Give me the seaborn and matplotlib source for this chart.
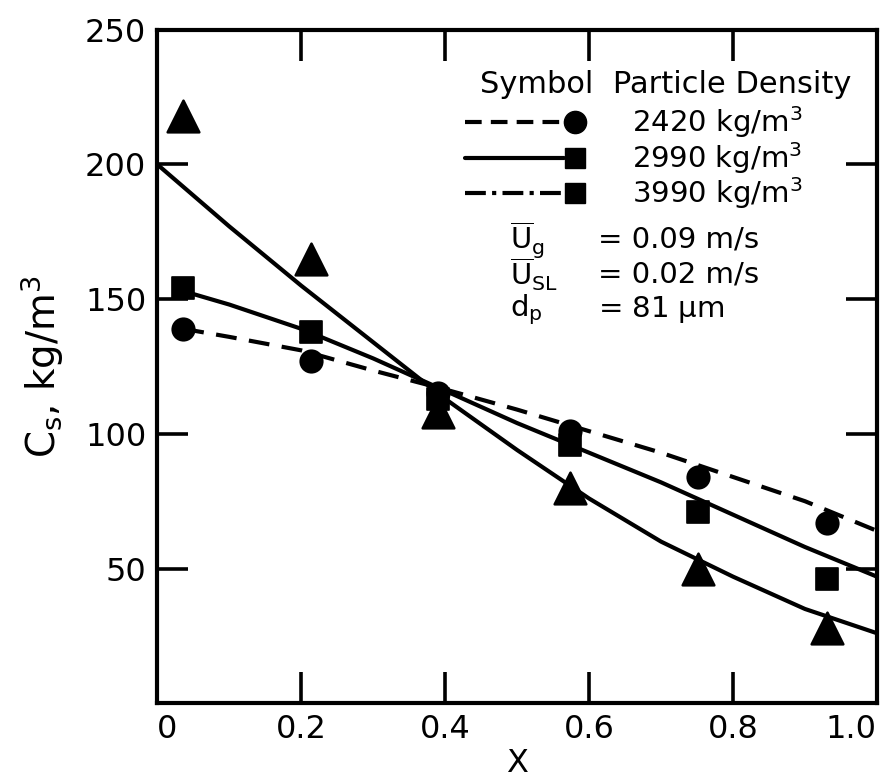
import pandas as pd
import matplotlib
matplotlib.use("Agg")
import matplotlib.pyplot as plt
import seaborn as sns

x_points = [0.036, 0.213, 0.39, 0.574, 0.752, 0.930]
cs_2420 = [139, 127, 115, 101, 84, 67]
cs_2990 = [154, 138, 113, 96, 71, 46]
cs_3990 = [218, 165, 108, 80, 50, 28]

# fitted curves
curve_2420_x = [0.036, 0.1, 0.2, 0.3, 0.4, 0.5, 0.6, 0.7, 0.8, 0.9, 1.0]
curve_2420_y = [139, 136, 131, 123.5, 116.5, 109, 101, 93, 84, 75, 64]
curve_2990_x = [0.036, 0.1, 0.2, 0.3, 0.4, 0.5, 0.6, 0.7, 0.8, 0.9, 1.0]
curve_2990_y = [153, 148, 139, 128, 116, 104, 93, 82, 70, 58, 47]
curve_3990_x = [0.0, 0.1, 0.2, 0.3, 0.4, 0.5, 0.6, 0.7, 0.8, 0.9, 1.0]
curve_3990_y = [200, 177, 155, 134, 113, 94, 76, 60, 47, 35, 26]

densities = ["2420 kg/m$^3$", "2990 kg/m$^3$", "3990 kg/m$^3$"]
conditions = [r"$\overline{U}_g$", r"$\overline{U}_{SL}$", r"d$_p$"]
condition_values = ["= 0.09 m/s", "= 0.02 m/s", "= 81 $\\mu$m"]
x_ticks = [0, 0.2, 0.4, 0.6, 0.8, 1.0]
x_tick_labels = ["0", "0.2", "0.4", "0.6", "0.8", "1.0"]
y_ticks = [50, 100, 150, 200, 250]

sns.set_style("ticks", {"text.color": "black", "axes.labelcolor": "black",
                        "xtick.color": "black", "ytick.color": "black",
                        "axes.edgecolor": "black"})
plt.rcParams["font.family"] = ["DejaVu Sans"]
plt.rcParams["mathtext.default"] = "regular"

fig = plt.figure(figsize=(8.84, 7.84), dpi=100)
ax = fig.add_axes([0.178, 0.103, 0.814, 0.859])

lw = 3.0
sns.lineplot(x=curve_2420_x, y=curve_2420_y, ax=ax, color="black", lw=lw,
             linestyle=(0, (5, 3)))
sns.lineplot(x=curve_2990_x, y=curve_2990_y, ax=ax, color="black", lw=lw)
sns.lineplot(x=curve_3990_x, y=curve_3990_y, ax=ax, color="black", lw=lw)

pts = pd.DataFrame({"x": x_points * 3,
                    "cs": cs_2420 + cs_2990 + cs_3990,
                    "rho": ["2420"] * 6 + ["2990"] * 6 + ["3990"] * 6})
sns.scatterplot(data=pts[pts.rho == "2420"], x="x", y="cs", marker="o",
                s=260, color="black", edgecolor="black", ax=ax, zorder=5,
                legend=False)
sns.scatterplot(data=pts[pts.rho == "2990"], x="x", y="cs", marker="s",
                s=230, color="black", edgecolor="black", ax=ax, zorder=5,
                legend=False)
sns.scatterplot(data=pts[pts.rho == "3990"], x="x", y="cs", marker="^",
                s=520, color="black", edgecolor="black", ax=ax, zorder=5,
                legend=False)

ax.set_xlim(0, 1.0)
ax.set_ylim(0, 250)
ax.set_xticks(x_ticks)
ax.set_xticklabels(x_tick_labels)
ax.set_yticks(y_ticks)
ax.tick_params(direction="in", length=22, width=2.6, labelsize=23,
               top=True, right=True, pad=8)
ax.get_xticklabels()[-1].set_horizontalalignment("right")
ax.get_xticklabels()[0].set_horizontalalignment("left")
for sp in ax.spines.values():
    sp.set_linewidth(3.0)
    sp.set_visible(True)

ax.set_xlabel("X", fontsize=23, labelpad=2)
ax.set_ylabel("C$_s$, kg/m$^3$", fontsize=28, labelpad=14)

# hand-made key, as in the original
tr = ax.transAxes
ax.text(0.448, 0.919, "Symbol  Particle Density", transform=tr,
        fontsize=22, va="center", ha="left")
key_styles = [((0, (4, 2.2)), "o", 16), ("-", "s", 15),
              ((0, (5, 1.5, 1, 1.5)), "s", 15)]
key_rows = [0.863, 0.810, 0.757]
for (ls, mk, ms), yy, lab in zip(key_styles, key_rows, densities):
    ax.plot([0.428, 0.565], [yy, yy], transform=tr, color="black", lw=lw,
            linestyle=ls, clip_on=False)
    ax.plot([0.58], [yy], transform=tr, marker=mk, ms=ms, color="black",
            clip_on=False)
    ax.text(0.66, yy, lab, transform=tr, fontsize=21, va="center", ha="left")

cond_rows = [0.689, 0.637, 0.585]
for name, val, yy in zip(conditions, condition_values, cond_rows):
    ax.text(0.49, yy, name, transform=tr, fontsize=21, va="center", ha="left")
    ax.text(0.612, yy, val, transform=tr, fontsize=21, va="center", ha="left")

fig.savefig("out.png", dpi=100, facecolor="white")
